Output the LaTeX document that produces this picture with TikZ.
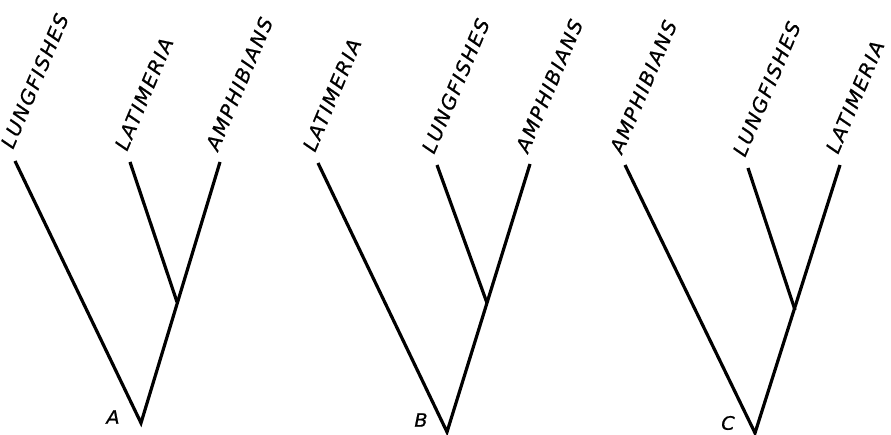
\documentclass[tikz,border=0pt]{standalone}
\usepackage{fontspec}
\usetikzlibrary{calc}
\newfontfamily\labfont[LetterSpace=8,FakeStretch=1.05,FakeBold=0.6]{DejaVu Sans}
\begin{document}
\begin{tikzpicture}[x=1pt,y=-1pt,
  branch/.style={line width=3.2pt,line join=miter,line cap=butt},
  taxon/.style={font=\labfont\itshape\fontsize{19.5}{22}\selectfont,rotate=67,anchor=base west,inner sep=0pt},
  treelab/.style={font=\labfont\itshape\fontsize{18.5}{21}\selectfont,inner sep=0pt}]
\useasboundingbox (0,0) rectangle (891,435);
% Tree A
\coordinate (rootA) at (141,423);
\coordinate (inA) at (177,302);
\coordinate (lungA) at (15,161);
\coordinate (latA) at (130,162);
\coordinate (amphA) at (220,162);
\draw[branch] (lungA) -- (rootA) -- (amphA);
\draw[branch] (latA) -- (inA);
\node[taxon] (tlungA) at ($(lungA)+(-2,-11)$) {LUNGFISHES};
\node[taxon] (tlatA) at ($(latA)+(-3,-10)$) {LATIMERIA};
\node[taxon] (tamphA) at ($(amphA)+(-2,-10)$) {AMPHIBIANS};
\node[treelab] (labA) at (113,417) {A};
% Tree B
\coordinate (rootB) at (447,432);
\coordinate (inB) at (487,303);
\coordinate (latB) at (318,163);
\coordinate (lungB) at (437,165);
\coordinate (amphB) at (530,164);
\draw[branch] (latB) -- (rootB) -- (amphB);
\draw[branch] (lungB) -- (inB);
\node[taxon] (tlatB) at ($(latB)+(-3,-10)$) {LATIMERIA};
\node[taxon] (tlungB) at ($(lungB)+(-3,-10)$) {LUNGFISHES};
\node[taxon] (tamphB) at ($(amphB)+(-2,-10)$) {AMPHIBIANS};
\node[treelab] (labB) at (421,420) {B};
% Tree C
\coordinate (rootC) at (755,433);
\coordinate (inC) at (795,310);
\coordinate (amphC) at (625,165);
\coordinate (lungC) at (748,168);
\coordinate (latC) at (840,165);
\draw[branch] (amphC) -- (rootC) -- (latC);
\draw[branch] (lungC) -- (inC);
\node[taxon] (tamphC) at ($(amphC)+(-3,-10)$) {AMPHIBIANS};
\node[taxon] (tlungC) at ($(lungC)+(-3,-10)$) {LUNGFISHES};
\node[taxon] (tlatC) at ($(latC)+(-2,-10)$) {LATIMERIA};
\node[treelab] (labC) at (728,423) {C};
\end{tikzpicture}
\end{document}
